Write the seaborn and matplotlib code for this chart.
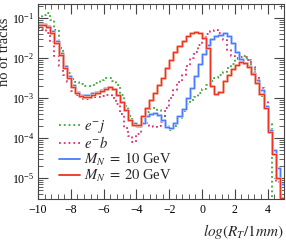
import numpy as np
import pandas as pd
import matplotlib
matplotlib.use("Agg")
import matplotlib.pyplot as plt
import seaborn as sns
from matplotlib.lines import Line2D
from matplotlib.ticker import MultipleLocator, LogLocator, NullFormatter

# ---- data (bin edges of log(R_T/1mm), bin contents read as log10 of "no of tracks") ----
bin_lo, bin_hi, bin_w = -10.0, 5.0, 0.25
centers = np.arange(bin_lo + bin_w / 2, bin_hi, bin_w)

ej_log10 = [-1.00, -0.93, -0.88, -1.05, -1.30, -1.75, -2.15, -2.38, -2.52, -2.60,
            -2.66, -2.70, -2.70, -2.67, -2.62, -2.56, -2.50, -2.50, -2.57, -2.68,
            -2.92, -3.20, -3.45, -3.62, -3.65, -3.52, -3.35, -3.27, -3.25, -3.30,
            -3.45, -3.68, -3.80, -3.70, -3.50, -3.32, -3.15, -3.05, -2.98, -2.88,
            -2.78, -2.68, -2.57, -2.50, -2.42, -2.35, -2.25, -2.15, -2.02, -1.95,
            -1.95, -2.05, -2.25, -2.55, -2.95, -3.25, -3.65, -8.00, -8.00, -8.00]

eb_log10 = [-1.25, -1.28, -1.38, -1.60, -1.95, -2.20, -2.42, -2.60, -2.82, -2.92,
            -2.98, -3.03, -3.03, -3.00, -2.97, -2.95, -2.92, -2.93, -3.00, -3.15,
            -3.40, -3.75, -3.95, -4.10, -3.90, -3.62, -3.62, -3.70, -3.73, -3.70,
            -3.60, -3.25, -3.00, -2.80, -2.60, -2.42, -2.20, -2.00, -1.85, -1.68,
            -1.52, -1.40, -1.32, -1.30, -1.38, -1.55, -1.80, -1.95, -2.00, -1.98,
            -1.97, -2.05, -2.22, -2.45, -2.75, -3.10, -3.80, -4.40, -5.10, -8.00]

mn10_log10 = [-1.15, -1.15, -1.20, -1.33, -1.58, -1.88, -2.20, -2.45, -2.68, -2.85,
              -2.92, -2.92, -2.92, -2.88, -2.85, -2.80, -2.75, -2.72, -2.78, -2.92,
              -3.10, -3.30, -3.55, -3.62, -3.70, -3.62, -3.45, -3.40, -3.38, -3.42,
              -3.55, -3.72, -3.75, -3.62, -3.45, -3.28, -3.00, -2.75, -2.45, -2.15,
              -1.90, -1.68, -1.52, -1.45, -1.42, -1.38, -1.45, -1.62, -1.85, -2.02,
              -2.12, -2.20, -2.38, -2.55, -2.80, -3.20, -3.80, -4.30, -4.75, -5.15]

mn20_log10 = [-1.17, -1.17, -1.22, -1.38, -1.62, -1.92, -2.25, -2.50, -2.72, -2.88,
              -2.95, -2.97, -2.97, -2.92, -2.88, -2.83, -2.77, -2.73, -2.78, -2.92,
              -3.10, -3.30, -3.55, -3.68, -3.68, -3.45, -3.25, -3.05, -2.88, -2.68,
              -2.50, -2.25, -2.05, -1.85, -1.70, -1.57, -1.45, -1.38, -1.36, -1.38,
              -1.50, -1.75, -2.70, -2.90, -2.85, -2.58, -2.42, -2.28, -2.18, -2.10,
              -2.12, -2.22, -2.40, -2.62, -2.90, -3.25, -3.85, -4.40, -5.00, -5.50]

labels = [r"$e^{-}j$", r"$e^{-}b$", r"$M_N\;=\;10$ GeV", r"$M_N\;=\;20$ GeV"]
x_ticks = [-10, -8, -6, -4, -2, 0, 2, 4]

# ---- style ----
sns.set_style("ticks")
plt.rcParams["font.family"] = ["Liberation Serif", "DejaVu Serif"]
plt.rcParams["mathtext.fontset"] = "stix"

fig = plt.figure(figsize=(2.86, 2.41), dpi=100)
ax = fig.add_axes([0.133, 0.174, 0.860, 0.809])
ax.set_yscale("log")

series = [
    (ej_log10, "#3aa63a", ":", None),
    (eb_log10, "#d8306e", ":", None),
    (mn10_log10, "#4a7cff", "-", "#b4cbff"),
    (mn20_log10, "#ee3322", "-", "#f7ae9a"),
]
for vals, col, ls, band in series:
    w = 10.0 ** np.asarray(vals)
    df = pd.DataFrame({"x": centers, "w": w})
    if band is not None:
        sns.histplot(data=df, x="x", weights="w", binwidth=bin_w,
                     binrange=(bin_lo, bin_hi), element="step",
                     fill=False, color=band, linewidth=2.0, ax=ax)
    sns.histplot(data=df, x="x", weights="w", binwidth=bin_w,
                 binrange=(bin_lo, bin_hi), element="step",
                 fill=False, color=col, linestyle=ls,
                 linewidth=1.3 if ls == ":" else 0.9, ax=ax)

ax.set_xlim(-10, 5)
ax.set_ylim(10 ** -5.53, 10 ** -0.65)
ax.set_xticks(x_ticks)
ax.xaxis.set_minor_locator(MultipleLocator(0.4))
ax.yaxis.set_major_locator(LogLocator(base=10, numticks=20))
ax.yaxis.set_minor_locator(LogLocator(base=10, subs=np.arange(2, 10), numticks=50))
ax.yaxis.set_minor_formatter(NullFormatter())

ax.tick_params(which="both", direction="in", top=True, right=True,
               colors="#444444", labelcolor="black", labelsize=8.5)
ax.tick_params(which="major", length=7, width=0.8)
ax.tick_params(which="minor", length=3.5, width=0.6)
ax.tick_params(axis="y", which="major", pad=2.5)
for s in ax.spines.values():
    s.set_color("#444444")
    s.set_linewidth(0.8)

ax.set_ylabel("no of tracks", fontsize=10.5)
ax.yaxis.set_label_coords(-0.108, 0.755)
ax.set_xlabel(r"$log(R_T/1mm)$", fontsize=11, labelpad=0)
ax.xaxis.set_label_coords(1.0, -0.12)
ax.xaxis.label.set_horizontalalignment("right")

handles = [
    Line2D([], [], color="#3aa63a", linestyle=":", linewidth=1.3),
    Line2D([], [], color="#d8306e", linestyle=":", linewidth=1.3),
    Line2D([], [], color="#4a7cff", linewidth=1.3),
    Line2D([], [], color="#ee3322", linewidth=1.3),
]
ax.legend(handles, labels, loc="upper left", bbox_to_anchor=(0.085, 0.415),
          frameon=False, fontsize=10.5, handlelength=1.45, handletextpad=0.3,
          labelspacing=0.0, borderaxespad=0, borderpad=0)

fig.savefig("out.png", dpi=100)
